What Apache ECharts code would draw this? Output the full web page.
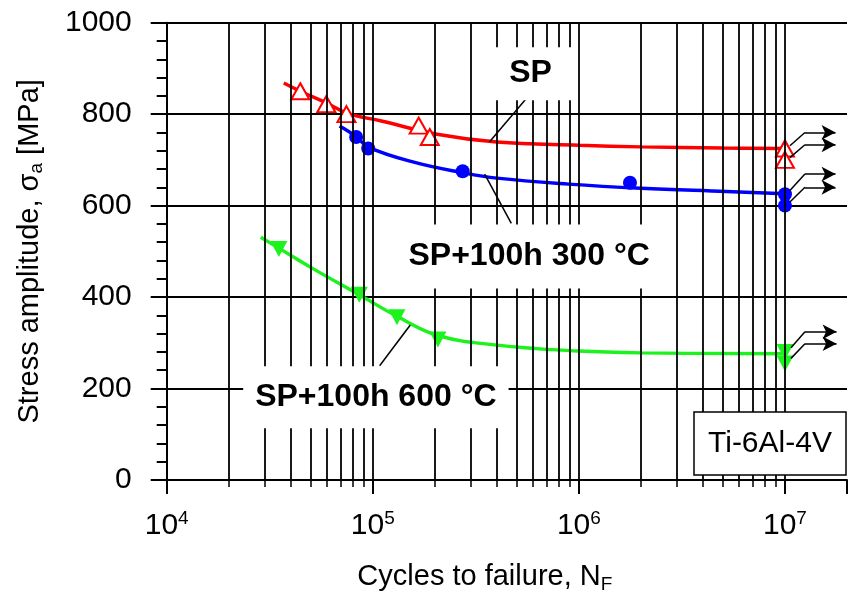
<!DOCTYPE html>
<html><head><meta charset="utf-8">
<script src="https://cdn.jsdelivr.net/npm/echarts@6/dist/echarts.min.js"></script>
<style>html,body{margin:0;padding:0;background:#fff}#c{width:850px;height:599px}</style>
</head><body><div id="c"></div>
<script>
const FONT = '"Liberation Sans", Arial, sans-serif';

// ---------- data (cycles, MPa) ----------
const spPoints   = [[4.45e4, 850], [5.95e4, 822], [7.45e4, 800], [1.67e5, 775], [1.89e5, 750]];
const spRunouts  = [[1e7, 725], [1e7, 700]];
const spCurve    = [[3.7e4, 868], [4.5e4, 849], [6e4, 824], [7.6e4, 801], [1.1e5, 785], [2.05e5, 756], [4e5, 739], [1e6, 732], [2e6, 728.5], [5e6, 726], [1e7, 725]];

const s300Points  = [[8.3e4, 750], [9.5e4, 725], [2.73e5, 675], [1.77e6, 650]];
const s300Runouts = [[1e7, 625], [1e7, 600]];
const s300Curve   = [[6.9e4, 774], [8.3e4, 751], [9.5e4, 728], [1.58e5, 695], [2.73e5, 672], [4e5, 660], [8.9e5, 647], [2e6, 638], [5.2e6, 631], [1e7, 626]];

const s600Points  = [[3.5e4, 505], [8.6e4, 405], [1.31e5, 356], [2.07e5, 307]];
const s600Runouts = [[1e7, 280], [1e7, 255]];
const s600Curve   = [[2.86e4, 531], [3.5e4, 507], [5e4, 465], [8.6e4, 405], [1.31e5, 358], [2.07e5, 316], [4e5, 295], [1e6, 282], [2e6, 278], [1e7, 276]];

// run-out arrows: start, bend, tip
const runoutArrows = [
  [[1.057e7, 731], [1.25e7, 760], [1.76e7, 760]],
  [[1.057e7, 705], [1.25e7, 733], [1.76e7, 733]],
  [[1.057e7, 633], [1.25e7, 669], [1.76e7, 669]],
  [[1.057e7, 608], [1.25e7, 640], [1.76e7, 640]],
  [[1.07e7, 289], [1.25e7, 324], [1.78e7, 324]],
  [[1.07e7, 266], [1.25e7, 298], [1.78e7, 298]]
];
// leader lines from curve labels
const leaderLines = [
  [[5.68e5, 839], [3.68e5, 739]],
  [[3.49e5, 669], [4.70e5, 561]],
  [[1.52e5, 339], [1.08e5, 250]]
];
const curveLabels = ['SP', 'SP+100h 300 °C', 'SP+100h 600 °C'];
const curveLabelAnchors = [[5.83e5, 888.6], [5.74e5, 489], [1.035e5, 181]];
const xDecades = [1e4, 1e5, 1e6, 1e7];
const xMultipliers = [2, 3, 4, 5, 6, 7, 8, 9];

// vertical grid values
const xGridLines = [];
xDecades.forEach((d, i) => {
  if (i > 0) xGridLines.push(d);
  if (d < 1e7) xMultipliers.forEach(m => xGridLines.push(m * d));
});

const chart = echarts.init(document.getElementById('c'), null, {renderer: 'canvas'});
const black = '#000';
const labelPads = [[10, 26, 11, 26], [16, 12, 16, 12], [15, 12, 15, 12]];

const option = {
  backgroundColor: '#fff',
  animation: false,
  textStyle: {fontFamily: FONT},
  title: {
    text: 'Ti-6Al-4V', left: 694, top: 412,
    padding: [15, 14, 15, 14],
    borderColor: black, borderWidth: 1.5, backgroundColor: '#fff',
    textStyle: {fontFamily: FONT, fontSize: 30, fontWeight: 'normal', color: '#000', lineHeight: 33}
  },
  grid: {left: 166.7, right: -5, top: 22.7, bottom: 116, containLabel: false},
  xAxis: {
    type: 'log', logBase: 10, min: 1e4, max: 2e7,
    axisLine: {show: true, lineStyle: {color: black, width: 2}},
    axisTick: {show: true, length: 14, lineStyle: {color: black, width: 2}},
    minorTick: {show: true, splitNumber: 9, length: 7, lineStyle: {color: black, width: 1.5}},
    splitLine: {show: false},
    axisLabel: {
      margin: 29, color: '#000',
      formatter: v => {
        const e = Math.round(Math.log10(v));
        if (Math.abs(v - Math.pow(10, e)) / v > 1e-6) return '';
        return '{b|10}{s|' + e + '}';
      },
      rich: {
        b: {fontFamily: FONT, fontSize: 30, lineHeight: 34, color: '#000'},
        s: {fontFamily: FONT, fontSize: 19, lineHeight: 19, verticalAlign: 'top', color: '#000'}
      }
    },
    name: '{n|Cycles to failure, N}{f|F}',
    nameLocation: 'middle', nameGap: 80,
    nameTextStyle: {
      padding: [0, 44, 0, 0],
      rich: {
        n: {fontFamily: FONT, fontSize: 29, lineHeight: 34, color: '#000'},
        f: {fontFamily: FONT, fontSize: 19, lineHeight: 19, verticalAlign: 'bottom', color: '#000'}
      }
    }
  },
  yAxis: {
    type: 'value', min: 0, max: 1000, interval: 200,
    axisLine: {show: true, lineStyle: {color: black, width: 2}},
    axisTick: {show: true, length: 16, lineStyle: {color: black, width: 2}},
    minorTick: {show: true, splitNumber: 5, length: 10, lineStyle: {color: black, width: 2}},
    splitLine: {show: true, lineStyle: {color: black, width: 1.8}},
    axisLabel: {fontFamily: FONT, fontSize: 30, margin: 35, color: '#000', formatter: v => String(v)},
    name: '{n|Stress amplitude, σ}{a|a}{n| [MPa]}',
    nameLocation: 'middle', nameGap: 120, nameRotate: 90,
    nameTextStyle: {
      rich: {
        n: {fontFamily: FONT, fontSize: 29, lineHeight: 34, color: '#000'},
        a: {fontFamily: FONT, fontSize: 19, lineHeight: 19, verticalAlign: 'bottom', color: '#000'}
      }
    }
  },
  series: [
    {
      name: 'grid', type: 'line', data: [], z: 1, silent: true,
      markLine: {
        silent: true, symbol: 'none', label: {show: false}, animation: false,
        lineStyle: {color: black, width: 1.8, type: 'solid'},
        emphasis: {disabled: true},
        data: xGridLines.map(v => ({xAxis: v}))
      }
    },
    {
      name: 'leaders', type: 'line', data: [], z: 2, silent: true,
      markLine: {
        silent: true, symbol: 'none', label: {show: false}, animation: false,
        lineStyle: {color: black, width: 1.5, type: 'solid'},
        emphasis: {disabled: true},
        data: leaderLines.map(l => [{coord: l[0]}, {coord: l[1]}]).concat(
          runoutArrows.map(a => [{coord: a[0], symbol: 'none'}, {coord: a[1], symbol: 'none'}]),
          runoutArrows.map(a => [{coord: a[1], symbol: 'none'}, {coord: a[2], symbol: 'arrow', symbolSize: [11, 14]}])
        )
      }
    },
    {type: 'line', data: spCurve, smooth: 0.4, showSymbol: false, z: 3, lineStyle: {color: '#ff0000', width: 3.4}, itemStyle: {color: '#ff0000'}},
    {type: 'line', data: s300Curve, smooth: 0.4, showSymbol: false, z: 3, lineStyle: {color: '#0000ff', width: 3.4}, itemStyle: {color: '#0000ff'}},
    {type: 'line', data: s600Curve, smooth: 0.4, showSymbol: false, z: 3, lineStyle: {color: '#1cf21c', width: 3.4}, itemStyle: {color: '#1cf21c'}},
    {type: 'scatter', data: spPoints.concat(spRunouts), symbol: 'triangle', symbolSize: [18, 16], z: 4,
      itemStyle: {color: '#fff', borderColor: '#ff0000', borderWidth: 2, opacity: 1}},
    {type: 'scatter', data: s300Points.concat(s300Runouts), symbol: 'circle', symbolSize: 14, z: 4,
      itemStyle: {color: '#0000ff', opacity: 1}},
    {type: 'scatter', data: s600Points.concat(s600Runouts), symbol: 'triangle', symbolRotate: 180, symbolSize: [17, 16], z: 4,
      itemStyle: {color: '#1cf21c', opacity: 1}},
    {
      type: 'scatter', z: 5, silent: true, symbolSize: 0,
      itemStyle: {opacity: 1},
      data: curveLabels.map((t, i) => ({name: t, value: curveLabelAnchors[i],
        label: {padding: labelPads[i]}})),
      label: {
        show: true, position: 'inside', formatter: '{b}', opacity: 1,
        fontFamily: FONT, fontSize: 32, fontWeight: 'bold', color: '#000',
        textBorderWidth: 0, backgroundColor: '#fff', lineHeight: 32
      }
    }
  ]
};
chart.setOption(option);
</script></body></html>
